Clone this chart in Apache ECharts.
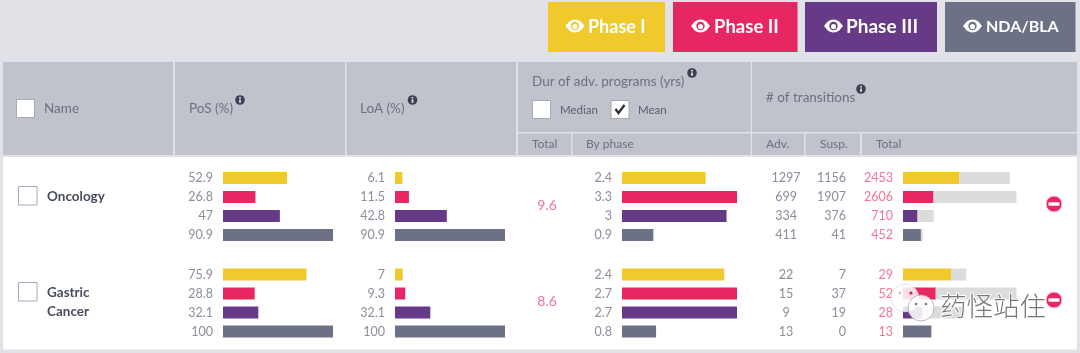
<!DOCTYPE html>
<html>
<head>
<meta charset="utf-8">
<title>Phase transition table</title>
<script src="https://cdn.jsdelivr.net/npm/echarts@6/dist/echarts.min.js"></script>
<style>
html,body{margin:0;padding:0;background:#e1e2e7;}
#main{width:1080px;height:353px;}
</style>
</head>
<body>
<div id="main"></div>
<script type="text/javascript">
// data, one row per phase: Phase I, II, III, NDA/BLA
var phases = ['Phase I', 'Phase II', 'Phase III', 'NDA/BLA'];
var names = ['Oncology', 'Gastric\nCancer'];

var pos = [[52.9, 26.8, 47, 90.9], [75.9, 28.8, 32.1, 100]];
var loa = [[6.1, 11.5, 42.8, 90.9], [7, 9.3, 32.1, 100]];
var durTotal = [9.6, 8.6];
var durPhase = [[2.4, 3.3, 3, 0.9], [2.4, 2.7, 2.7, 0.8]];
var adv = [[1297, 699, 334, 411], [22, 15, 9, 13]];
var susp = [[1156, 1907, 376, 41], [7, 37, 19, 0]];
var total = [[2453, 2606, 710, 452], [29, 52, 28, 13]];

var colors = ['#f0c92c', '#e82662', '#673a88', '#6c7186'];
var suspColor = '#dcdcdc';
var font = 'Lato';
var textColor = '#8b8e9b';
var headColor = '#6d7081';
var pinkText = '#f27595';

var myChart = echarts.init(document.getElementById('main'), null, {renderer: 'canvas'});

// columns of small bar charts
var rowTop = [168.5, 265];
var rowHeight = 76;
var cols = [
    {left: 223, width: 110, data: pos, gap: 10},
    {left: 395, width: 110, data: loa, gap: 10},
    {left: 622, width: 115, data: durPhase, gap: 10},
    {left: 903, width: 113.5, data: adv, gap: 10, stacked: true}
];

var grid = [], xAxis = [], yAxis = [], series = [];

function labelAxis(gridIndex, values, opt) {
    return {
        type: 'category',
        gridIndex: gridIndex,
        inverse: true,
        position: 'left',
        offset: opt.offset || 0,
        data: values.map(String),
        axisLine: {show: false},
        axisTick: {show: false},
        splitLine: {show: false},
        axisLabel: {
            show: true,
            interval: 0,
            margin: opt.margin,
            align: opt.align || 'right',
            color: opt.color || textColor,
            fontFamily: font,
            fontSize: 12.5,
            padding: [0, 0, 6, 0]
        }
    };
}

cols.forEach(function (col) {
    [0, 1].forEach(function (row) {
        var g = grid.length;
        grid.push({left: col.left, width: col.width, top: rowTop[row], height: rowHeight});
        var barData = col.data[row];
        if (col.stacked) {
            xAxis.push({type: 'value', gridIndex: g, show: false, min: 0, max: Math.max.apply(null, total[row])});
            // Total, Susp. and Adv. columns hang off the same rows
            yAxis.push(labelAxis(g, total[row], {margin: col.gap, color: pinkText}));
            var yi = yAxis.length - 1;
            yAxis.push(labelAxis(g, susp[row], {margin: 57}));
            yAxis.push(labelAxis(g, adv[row], {margin: 117, align: 'center'}));
            series.push({
                type: 'bar', stack: 's' + g, xAxisIndex: g, yAxisIndex: yi, barWidth: 12, silent: true,
                data: barData.map(function (v, i) {
                    return {value: v, itemStyle: {color: colors[i]}};
                })
            });
            series.push({
                type: 'bar', stack: 's' + g, xAxisIndex: g, yAxisIndex: yi, barWidth: 12, silent: true,
                data: susp[row],
                itemStyle: {color: suspColor}
            });
        } else {
            xAxis.push({type: 'value', gridIndex: g, show: false, min: 0, max: Math.max.apply(null, barData)});
            yAxis.push(labelAxis(g, barData, {margin: col.gap}));
            series.push({
                type: 'bar', xAxisIndex: g, yAxisIndex: yAxis.length - 1, barWidth: 12, silent: true,
                data: barData.map(function (v, i) {
                    return {value: v, itemStyle: {color: colors[i]}};
                })
            });
        }
    });
});

// page furniture: cards, buttons, checkboxes, captions
var g = [];

function box(x, y, w, h, fill, z) {
    g.push({type: 'rect', z: z || 0, silent: true, shape: {x: x, y: y, width: w, height: h}, style: {fill: fill}});
}
function txt(x, y, text, size, color, weight, align, family) {
    g.push({type: 'text', z: 5, silent: true, x: x, y: y, style: {
        text: text, fill: color, fontSize: size, fontWeight: weight || 'normal',
        fontFamily: family || font, align: align || 'left', verticalAlign: 'middle', lineHeight: 19
    }});
}
function checkbox(x, y, size, on) {
    g.push({type: 'rect', z: 4, silent: true, shape: {x: x + 0.5, y: y + 0.5, width: size, height: size},
        style: {fill: '#fff', stroke: '#a5a8b6', lineWidth: 1}});
    if (on) {
        g.push({type: 'polyline', z: 5, silent: true,
            shape: {points: [[x + 5, y + 9], [x + 8, y + 13], [x + 14, y + 5]]},
            style: {fill: 'none', stroke: '#2e3140', lineWidth: 2.4}});
    }
}
function info(cx, cy) {
    g.push({type: 'circle', z: 5, silent: true, shape: {cx: cx, cy: cy, r: 4.8}, style: {fill: '#3c4052'}});
    box(cx - 0.9, cy - 3, 1.8, 1.5, '#dfe0e6', 6);
    box(cx - 0.9, cy - 0.6, 1.8, 3.4, '#dfe0e6', 6);
}
function eye(cx, cy, fill) {
    g.push({type: 'polygon', z: 5, silent: true,
        shape: {points: [[cx - 9.5, cy], [cx - 6, cy - 4.2], [cx - 3, cy - 6], [cx, cy - 6.6], [cx + 3, cy - 6], [cx + 6, cy - 4.2], [cx + 9.5, cy],
            [cx + 6, cy + 4.2], [cx + 3, cy + 6], [cx, cy + 6.6], [cx - 3, cy + 6], [cx - 6, cy + 4.2]]},
        style: {fill: '#fff'}});
    g.push({type: 'circle', z: 6, silent: true, shape: {cx: cx, cy: cy, r: 4.2}, style: {fill: fill}});
    g.push({type: 'circle', z: 7, silent: true, shape: {cx: cx, cy: cy + 0.6, r: 2.6}, style: {fill: '#fff'}});
}
function minus(cx, cy) {
    g.push({type: 'circle', z: 5, silent: true, shape: {cx: cx, cy: cy, r: 8},
        style: {fill: '#e82662', stroke: '#fbd5df', lineWidth: 1}});
    box(cx - 5.5, cy - 1.7, 11, 3.4, '#fff', 6);
}

// buttons
var buttons = [
    {x: 548, w: 117, eye: 575, tx: 588, size: 18},
    {x: 673, w: 124.5, eye: 700.5, tx: 714, size: 18.5},
    {x: 805, w: 132, eye: 833.5, tx: 846, size: 19},
    {x: 945, w: 130.5, eye: 972.5, tx: 986, size: 16}
];
buttons.forEach(function (b, i) {
    box(b.x, 2, b.w, 50, colors[i]);
    eye(b.eye, 26, colors[i]);
    txt(b.tx, 27, phases[i], b.size, '#fff', 'bold');
});

// header cells
box(3, 62, 170, 93, '#c0c2cc');
box(175, 62, 170, 93, '#c0c2cc');
box(346.5, 62, 169.5, 93, '#c0c2cc');
box(518, 62, 232.7, 70, '#c0c2cc');
box(752, 62, 325, 70, '#c0c2cc');
box(518, 133.5, 53, 21.5, '#c0c2cc');
box(572.5, 133.5, 178.2, 21.5, '#c0c2cc');
box(752, 133.5, 52, 21.5, '#c0c2cc');
box(805.5, 133.5, 54.5, 21.5, '#c0c2cc');
box(862, 133.5, 215, 21.5, '#c0c2cc');
// table body
box(3, 157, 1074, 192.5, '#fff');

checkbox(16, 99, 18);
txt(44, 109, 'Name', 13.5, headColor);
txt(189, 109, 'PoS (%)', 13.5, headColor);
info(240, 100);
txt(360, 109, 'LoA (%)', 13.5, headColor);
info(412.5, 100);
txt(532, 82, 'Dur of adv. programs (yrs)', 13.5, headColor);
info(692, 73);
checkbox(532, 100, 18);
txt(560, 110.5, 'Median', 11.5, '#5a5d6e');
checkbox(610.5, 100, 18, true);
txt(638, 110.5, 'Mean', 11.5, '#5a5d6e');
txt(766, 97.5, '# of transitions', 13.5, headColor);
info(861, 89);
txt(532, 144, 'Total', 12, headColor);
txt(586, 144, 'By phase', 12, headColor);
txt(766, 144, 'Adv.', 12, headColor);
txt(820, 144, 'Susp.', 12, headColor);
txt(876, 144, 'Total', 12, headColor);

// row captions
var checkY = [186, 282];
var nameY = [196.5, 302];
var durY = [205, 301];
var minusY = [204, 300];
names.forEach(function (n, i) {
    checkbox(18, checkY[i], 18.5);
    txt(47, nameY[i], n, 13.5, '#484c5e', 'bold');
    txt(547, durY[i], String(durTotal[i]), 14, pinkText, 'normal', 'center');
    minus(1054, minusY[i]);
});

// watermark over the bottom right corner
g.push({type: 'group', z: 20, silent: true, children: [
    {type: 'circle', z: 20, shape: {cx: 905, cy: 298, r: 14}, style: {fill: 'rgba(255,255,255,0.85)', stroke: 'rgba(170,170,178,0.5)', lineWidth: 0.6}},
    {type: 'circle', z: 20, shape: {cx: 900, cy: 293, r: 1.4}, style: {fill: '#c9c9c9'}},
    {type: 'circle', z: 20, shape: {cx: 911, cy: 293, r: 1.6}, style: {fill: '#c4234f'}},
    {type: 'circle', z: 21, shape: {cx: 921, cy: 308, r: 13}, style: {fill: 'rgba(255,255,255,0.88)', stroke: '#a9a9b2', lineWidth: 0.8}},
    {type: 'circle', z: 21, shape: {cx: 916, cy: 304, r: 1.3}, style: {fill: '#777'}},
    {type: 'circle', z: 21, shape: {cx: 926, cy: 304, r: 1.3}, style: {fill: '#777'}},
    {type: 'text', z: 22, x: 940, y: 306, style: {
        text: '药怪站住', fontFamily: 'Noto Sans CJK SC', fontSize: 26.5, fontWeight: 300,
        fill: '#777777', stroke: 'rgba(255,255,255,0.95)', lineWidth: 2, verticalAlign: 'middle'
    }}
]});

var option = {
    animation: false,
    backgroundColor: '#e1e2e7',
    grid: grid,
    xAxis: xAxis,
    yAxis: yAxis,
    series: series,
    graphic: {elements: g}
};

myChart.setOption(option);
</script>
</body>
</html>
